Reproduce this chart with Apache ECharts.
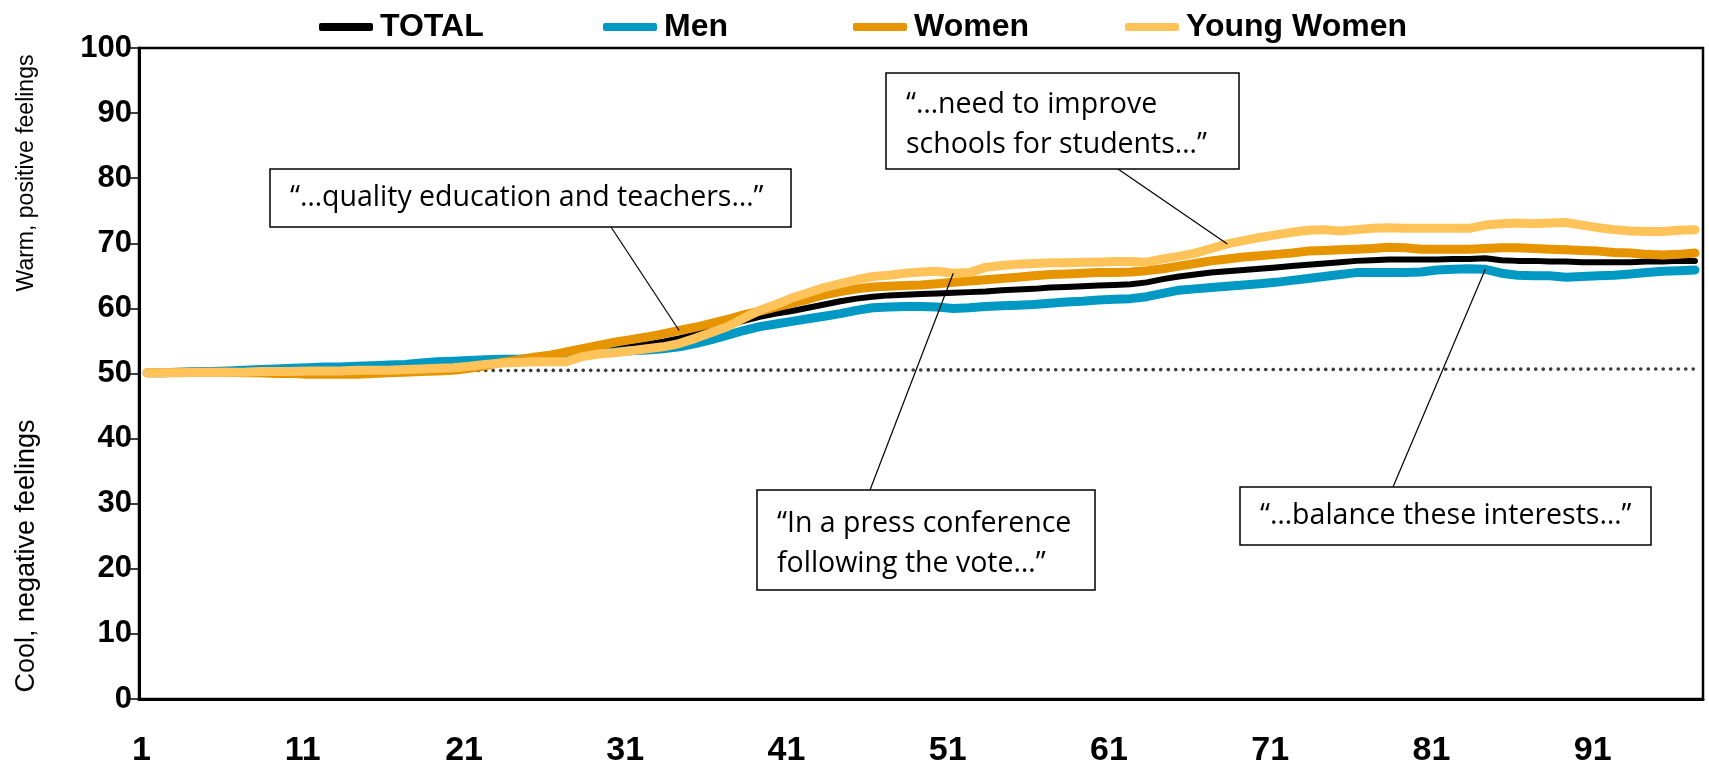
<!DOCTYPE html>
<html>
<head>
<meta charset="utf-8">
<title>Feelings over time</title>
<script src="https://cdn.jsdelivr.net/npm/echarts@6/dist/echarts.min.js"></script>
<style>
  html, body { margin: 0; padding: 0; background: #fff; }
  #chart { width: 1709px; height: 771px; }
</style>
</head>
<body>
<div id="chart"></div>
<script>
// x positions 1..97
const categories = []
for (let i = 1; i <= 97; i++) categories.push(String(i))

const seriesNames = ['TOTAL', 'Men', 'Women', 'Young Women']

const total = [
  50.1, 50.1, 50.2, 50.2, 50.3, 50.3, 50.3, 50.3, 50.4, 50.4,
  50.4, 50.5, 50.5, 50.5, 50.6, 50.7, 50.8, 50.9, 51.1, 51.2,
  51.4, 51.6, 51.9, 52.1, 52.4, 52.6, 52.9, 53.2, 53.5, 53.8,
  54.1, 54.5, 54.9, 55.4, 56.0, 56.7, 57.4, 58.1, 58.7, 59.2,
  59.6, 60.1, 60.6, 61.1, 61.5, 61.8, 62.0, 62.1, 62.2, 62.3,
  62.4, 62.5, 62.6, 62.8, 62.9, 63.0, 63.2, 63.3, 63.4, 63.5,
  63.6, 63.7, 64.0, 64.5, 64.9, 65.2, 65.5, 65.7, 65.9, 66.1,
  66.3, 66.5, 66.7, 66.9, 67.1, 67.3, 67.4, 67.5, 67.5, 67.5,
  67.5, 67.6, 67.6, 67.7, 67.4, 67.3, 67.3, 67.2, 67.2, 67.1,
  67.1, 67.1, 67.1, 67.2, 67.2, 67.3, 67.3
]

const men = [
  50.1, 50.1, 50.2, 50.3, 50.3, 50.4, 50.5, 50.6, 50.7, 50.8,
  50.9, 51.0, 51.0, 51.1, 51.2, 51.3, 51.4, 51.6, 51.8, 51.9,
  52.0, 52.1, 52.2, 52.2, 52.3, 52.5, 52.7, 52.9, 53.1, 53.3,
  53.5, 53.6, 53.8, 54.1, 54.6, 55.2, 55.9, 56.6, 57.2, 57.6,
  58.0, 58.4, 58.8, 59.2, 59.7, 60.1, 60.2, 60.3, 60.3, 60.2,
  60.0, 60.1, 60.3, 60.4, 60.5, 60.6, 60.8, 61.0, 61.1, 61.3,
  61.4, 61.5, 61.8, 62.3, 62.8, 63.0, 63.2, 63.4, 63.6, 63.8,
  64.0, 64.3, 64.6, 64.9, 65.2, 65.5, 65.5, 65.5, 65.5, 65.6,
  65.9, 66.0, 66.1, 66.0, 65.4, 65.1, 65.0, 65.0, 64.8, 64.9,
  65.0, 65.1, 65.3, 65.5, 65.7, 65.8, 65.9
]

const women = [
  50.1, 50.1, 50.2, 50.2, 50.2, 50.2, 50.1, 50.1, 50.0, 50.0,
  49.9, 49.9, 49.9, 49.9, 50.0, 50.1, 50.2, 50.3, 50.4, 50.5,
  50.8, 51.2, 51.7, 52.1, 52.5, 52.8, 53.3, 53.8, 54.3, 54.8,
  55.2, 55.6, 56.1, 56.6, 57.1, 57.7, 58.3, 59.0, 59.6, 60.2,
  60.8, 61.4, 62.1, 62.6, 63.0, 63.3, 63.4, 63.5, 63.6, 63.8,
  64.0, 64.2, 64.4, 64.6, 64.8, 65.0, 65.2, 65.3, 65.4, 65.5,
  65.5, 65.6, 65.8, 66.1, 66.5, 66.9, 67.3, 67.6, 67.9, 68.1,
  68.3, 68.5, 68.8, 68.9, 69.0, 69.1, 69.2, 69.4, 69.3, 69.1,
  69.1, 69.1, 69.1, 69.2, 69.3, 69.3, 69.2, 69.1, 69.0, 68.9,
  68.8, 68.6, 68.5, 68.3, 68.2, 68.3, 68.5
]

const youngWomen = [
  50.1, 50.1, 50.1, 50.2, 50.2, 50.2, 50.2, 50.3, 50.3, 50.3,
  50.4, 50.4, 50.4, 50.5, 50.5, 50.5, 50.6, 50.7, 50.8, 50.9,
  51.1, 51.4, 51.6, 51.7, 51.8, 51.8, 51.8, 52.6, 53.0, 53.2,
  53.5, 53.8, 54.1, 54.6, 55.4, 56.3, 57.2, 58.5, 59.7, 60.6,
  61.6, 62.4, 63.2, 63.8, 64.4, 64.9, 65.1, 65.4, 65.6, 65.7,
  65.4, 65.5, 66.3, 66.6, 66.8, 66.9, 67.0, 67.0, 67.1, 67.1,
  67.2, 67.2, 67.1, 67.6, 68.0, 68.5, 69.2, 69.9, 70.4, 70.9,
  71.3, 71.7, 72.0, 72.1, 71.9, 72.1, 72.3, 72.4, 72.3, 72.3,
  72.3, 72.3, 72.3, 72.8, 73.0, 73.1, 73.0, 73.1, 73.2, 72.8,
  72.4, 72.1, 71.9, 71.8, 71.8, 72.0, 72.1
]

// neutral reference (dotted), start and end
const neutralLine = [['2', 50.4], ['97', 50.7]]

const yTicks = [0, 10, 20, 30, 40, 50, 60, 70, 80, 90, 100]

const seriesData = [total, men, women, youngWomen]
const colors = ['#000000', '#0099c4', '#e69500', '#ffc35a']
const widths = [6, 9, 9, 9]
// legend item left edges (px)
const legendLeft = [314, 598, 848, 1120]

// quotes: box [x, y, w, h], where the pointer leaves the box, which series / category it points at
const notes = [
  {lines: ['“…quality education and teachers…”'], box: [270, 169, 521, 58], from: [611, 227], series: 2, cat: 34},
  {lines: ['“…need to improve', 'schools for students…”'], box: [886, 73, 353, 96], from: [1118, 169], series: 3, cat: 68},
  {lines: ['“In a press conference', 'following the vote…”'], box: [757, 490, 338, 100], from: [870, 490], series: 3, cat: 51},
  {lines: ['“…balance these interests…”'], box: [1240, 487, 411, 58], from: [1393, 487], series: 1, cat: 84}
]

const chart = echarts.init(document.getElementById('chart'))

const series = seriesNames.map((name, i) => ({
  name: name,
  type: 'line',
  data: seriesData[i],
  showSymbol: false,
  symbol: 'none',
  lineStyle: {width: widths[i], color: colors[i], cap: 'round', join: 'round'},
  itemStyle: {color: colors[i]},
  z: 3 + i
}))

series[0].markLine = {
  silent: true,
  symbol: ['none', 'none'],
  label: {show: false},
  lineStyle: {color: '#3a3a3a', width: 3.6, type: [0.1, 7.4], cap: 'round'},
  data: [[{coord: neutralLine[0]}, {coord: neutralLine[1]}]]
}

// one legend per item so each sits where it does in the original
const legends = seriesNames.map((name, i) => ({
  left: legendLeft[i],
  top: 6,
  icon: 'roundRect',
  itemWidth: 54,
  itemHeight: 8,
  textStyle: {fontSize: 32, fontWeight: 'bold', color: '#000', padding: [0, 0, 0, 2]},
  data: [name]
}))

const option = {
  animation: false,
  color: colors,
  textStyle: {fontFamily: 'Liberation Sans, Arial, sans-serif'},
  legend: legends,
  grid: {
    left: 139, right: 6, top: 48, bottom: 72,
    show: true, borderColor: '#000', borderWidth: 2.5
  },
  xAxis: {
    type: 'category',
    data: categories,
    boundaryGap: true,
    axisLine: {lineStyle: {color: '#000', width: 3}},
    axisTick: {interval: 0, length: 8, lineStyle: {color: '#555', width: 1.5}},
    axisLabel: {
      interval: 9, margin: 35,
      fontSize: 34, fontWeight: 'bold', color: '#000',
      padding: [0, 11, 0, 0]
    },
    splitLine: {show: false}
  },
  yAxis: {
    type: 'value',
    min: yTicks[0],
    max: yTicks[yTicks.length - 1],
    interval: yTicks[1] - yTicks[0],
    axisLine: {show: true, lineStyle: {color: '#000', width: 3}},
    axisTick: {show: true, length: 9, lineStyle: {color: '#000', width: 1.5}},
    axisLabel: {margin: 7, fontSize: 31, fontWeight: 'bold', color: '#000'},
    splitLine: {show: false}
  },
  series: series
}

chart.setOption(option)

// side titles and quote boxes
function drawNotes() {
  const els = [
    {
      type: 'text', x: 27, y: 173, rotation: Math.PI / 2,
      style: {text: 'Warm, positive feelings', font: '23px "Liberation Sans", Arial, sans-serif',
        fill: '#000', align: 'center', verticalAlign: 'middle'}
    },
    {
      type: 'text', x: 27, y: 556, rotation: Math.PI / 2,
      style: {text: 'Cool, negative feelings', font: '27px "Liberation Sans", Arial, sans-serif',
        fill: '#000', align: 'center', verticalAlign: 'middle'}
    }
  ]
  notes.forEach(n => {
    const end = chart.convertToPixel({seriesIndex: n.series}, [n.cat - 1, seriesData[n.series][n.cat - 1]])
    els.push({
      type: 'line', z: 100,
      shape: {x1: n.from[0], y1: n.from[1], x2: end[0], y2: end[1]},
      style: {stroke: '#000', lineWidth: 1.2}
    })
    els.push({
      type: 'rect', z: 101,
      shape: {x: n.box[0], y: n.box[1], width: n.box[2], height: n.box[3]},
      style: {fill: '#fff', stroke: '#000', lineWidth: 1.5}
    })
    const lineH = 40
    const shift = n.lines.length > 1 ? 4 : 0
    const top = n.box[1] + n.box[3] / 2 - (n.lines.length - 1) * lineH / 2 + shift
    n.lines.forEach((t, k) => {
      els.push({
        type: 'text', z: 102, x: n.box[0] + 20, y: top + k * lineH,
        style: {text: t, font: '28.5px "Open Sans", "Noto Sans", sans-serif', fill: '#000', verticalAlign: 'middle'}
      })
    })
  })
  chart.setOption({graphic: els})
}

drawNotes()
</script>
</body>
</html>
